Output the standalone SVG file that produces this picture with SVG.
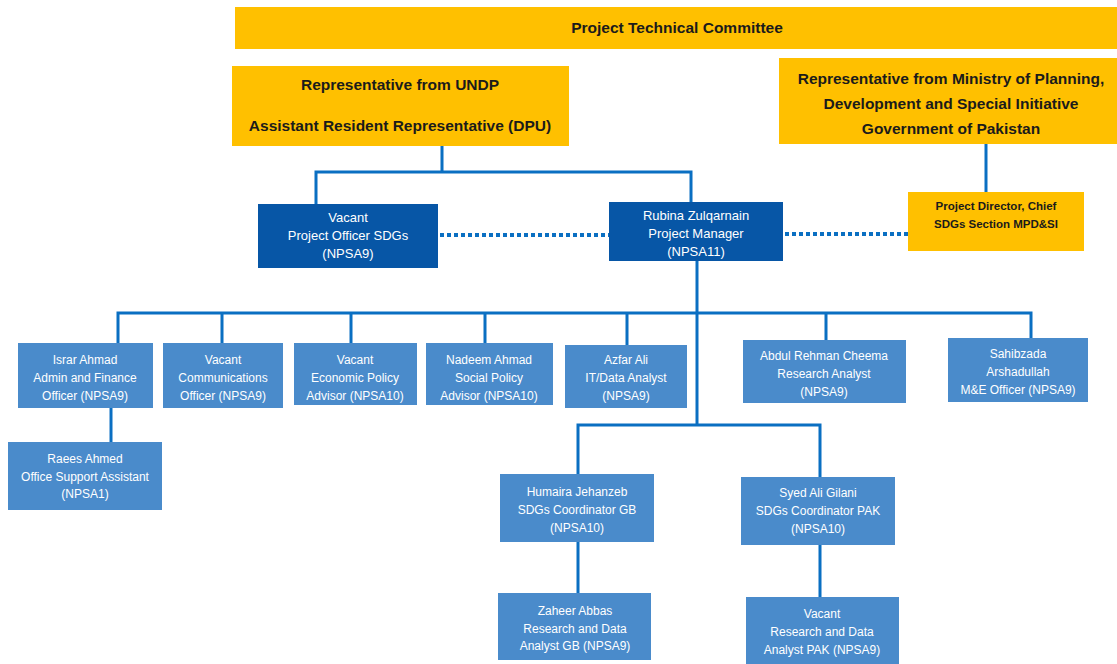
<svg xmlns="http://www.w3.org/2000/svg" width="1117" height="664" viewBox="0 0 1117 664">
<style>
.y{fill:#FFC000}
.d{fill:#0756A6}
.l{fill:#4A8BCB}
.ty{font-family:"Liberation Sans",Arial,sans-serif;font-weight:bold;fill:#1b1b1b;text-anchor:middle}
.tw{font-family:"Liberation Sans",Arial,sans-serif;fill:#fff;text-anchor:middle;font-size:12px}
.tdark{font-family:"Liberation Sans",Arial,sans-serif;fill:#fff;text-anchor:middle;font-size:13px}
.c{stroke:#0A6FC2;stroke-width:3;fill:none}
.dot{stroke:#0A6FC2;stroke-width:4;stroke-dasharray:4 3;fill:none}
</style>
<rect width="1117" height="664" fill="#fff"/>
<g id="connectors">
<path class="c" d="M442 146V172M316 204V172H691V203"/>
<path class="c" d="M986 144V192"/>
<path class="dot" d="M440 235H609"/>
<path class="dot" d="M785 234H908"/>
<path class="c" d="M697 261V425"/>
<path class="c" d="M118 344V313H1031V338M222 313V343M351 313V343M485 313V343M627 313V345M826 313V340"/>
<path class="c" d="M111 408V442"/>
<path class="c" d="M578 474V425H820V477"/>
<path class="c" d="M578 542V593M820 545V597"/>
</g>
<g id="ptc"><rect class="y" x="235" y="7" width="882" height="42"/><text class="ty" x="677" y="33" font-size="15.5">Project Technical Committee</text></g>
<g id="undp"><rect class="y" x="232" y="66" width="337" height="80"/><text class="ty" x="400" y="90" font-size="15.5">Representative from UNDP</text><text class="ty" x="400" y="131" font-size="15.5">Assistant Resident Representative (DPU)</text></g>
<g id="ministry"><rect class="y" x="779" y="58" width="338" height="86"/><text class="ty" x="951" y="84" font-size="15.5">Representative from Ministry of Planning,</text><text class="ty" x="951" y="109" font-size="15.5">Development and Special Initiative</text><text class="ty" x="951" y="134" font-size="15.5">Government of Pakistan</text></g>
<g id="vacant-po"><rect class="d" x="258" y="204" width="180" height="64"/><text class="tdark" x="348" y="222">Vacant</text><text class="tdark" x="348" y="240">Project Officer SDGs</text><text class="tdark" x="348" y="258">(NPSA9)</text></g>
<g id="rubina"><rect class="d" x="609" y="202" width="174" height="59"/><text class="tdark" x="696" y="220">Rubina Zulqarnain</text><text class="tdark" x="696" y="238">Project Manager</text><text class="tdark" x="696" y="256">(NPSA11)</text></g>
<g id="pd"><rect class="y" x="908" y="192" width="176" height="59"/><text class="ty" x="996" y="210" font-size="11.5">Project Director, Chief</text><text class="ty" x="996" y="228" font-size="11.5">SDGs Section MPD&amp;SI</text></g>
<g id="israr"><rect class="l" x="18" y="343" width="135" height="65"/><text class="tw" x="85" y="364">Israr Ahmad</text><text class="tw" x="85" y="382">Admin and Finance</text><text class="tw" x="85" y="400">Officer (NPSA9)</text></g>
<g id="comm"><rect class="l" x="163" y="343" width="120" height="65"/><text class="tw" x="223" y="364">Vacant</text><text class="tw" x="223" y="382">Communications</text><text class="tw" x="223" y="400">Officer (NPSA9)</text></g>
<g id="econ"><rect class="l" x="294" y="343" width="123" height="62"/><text class="tw" x="355" y="364">Vacant</text><text class="tw" x="355" y="382">Economic Policy</text><text class="tw" x="355" y="400">Advisor (NPSA10)</text></g>
<g id="nadeem"><rect class="l" x="426" y="343" width="127" height="62"/><text class="tw" x="489" y="364">Nadeem Ahmad</text><text class="tw" x="489" y="382">Social Policy</text><text class="tw" x="489" y="400">Advisor (NPSA10)</text></g>
<g id="azfar"><rect class="l" x="565" y="345" width="122" height="63"/><text class="tw" x="626" y="364">Azfar Ali</text><text class="tw" x="626" y="382">IT/Data Analyst</text><text class="tw" x="626" y="400">(NPSA9)</text></g>
<g id="abdul"><rect class="l" x="743" y="340" width="163" height="63"/><text class="tw" x="824" y="360">Abdul Rehman Cheema</text><text class="tw" x="824" y="378">Research Analyst</text><text class="tw" x="824" y="396">(NPSA9)</text></g>
<g id="sahibzada"><rect class="l" x="948" y="338" width="140" height="64"/><text class="tw" x="1018" y="358">Sahibzada</text><text class="tw" x="1018" y="376">Arshadullah</text><text class="tw" x="1018" y="394">M&amp;E Officer (NPSA9)</text></g>
<g id="raees"><rect class="l" x="8" y="442" width="154" height="68"/><text class="tw" x="85" y="463">Raees Ahmed</text><text class="tw" x="85" y="481">Office Support Assistant</text><text class="tw" x="85" y="498">(NPSA1)</text></g>
<g id="humaira"><rect class="l" x="500" y="474" width="154" height="68"/><text class="tw" x="577" y="496">Humaira Jehanzeb</text><text class="tw" x="577" y="514">SDGs Coordinator GB</text><text class="tw" x="577" y="532">(NPSA10)</text></g>
<g id="syed"><rect class="l" x="741" y="477" width="154" height="68"/><text class="tw" x="818" y="497">Syed Ali Gilani</text><text class="tw" x="818" y="515">SDGs Coordinator PAK</text><text class="tw" x="818" y="533">(NPSA10)</text></g>
<g id="zaheer"><rect class="l" x="498" y="593" width="153" height="67"/><text class="tw" x="575" y="615">Zaheer Abbas</text><text class="tw" x="575" y="633">Research and Data</text><text class="tw" x="575" y="650">Analyst GB (NPSA9)</text></g>
<g id="vacant-pak"><rect class="l" x="746" y="597" width="153" height="67"/><text class="tw" x="822" y="618">Vacant</text><text class="tw" x="822" y="636">Research and Data</text><text class="tw" x="822" y="654">Analyst PAK (NPSA9)</text></g>
</svg>
